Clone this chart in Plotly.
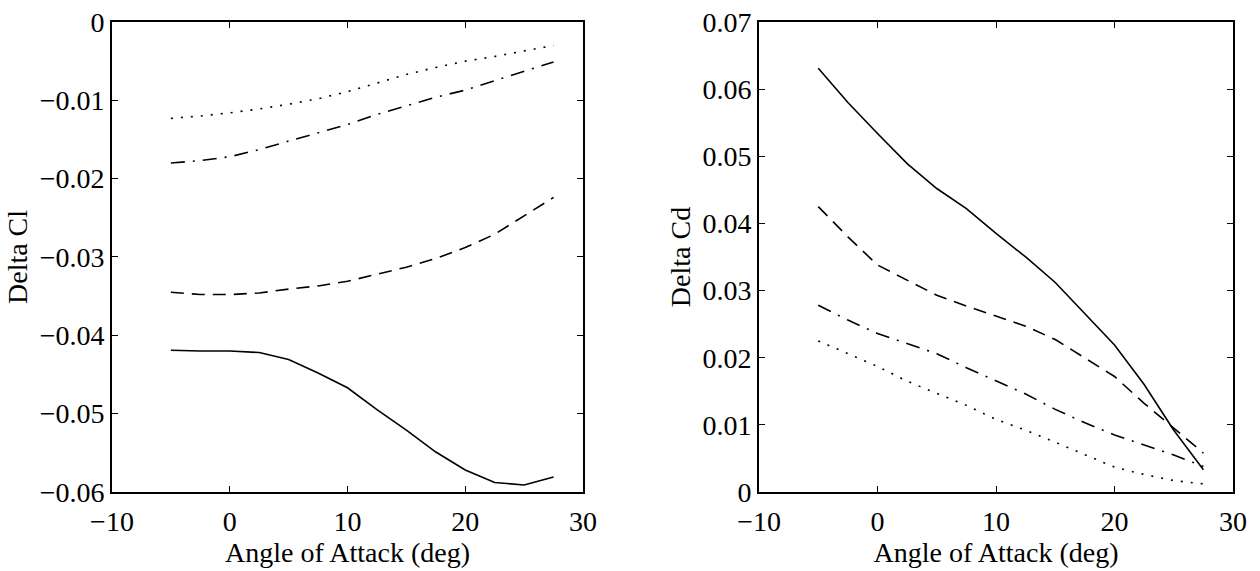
import plotly.graph_objects as go

# Angle of attack (deg)
alpha = [-5, -2.5, 0, 2.5, 5, 7.5, 10, 12.5, 15, 17.5, 20, 22.5, 25, 27.5]

# Delta Cl series (left panel)
cl_solid = [-0.0419, -0.0420, -0.0420, -0.0422, -0.0431, -0.0448, -0.0467, -0.0495,
            -0.0521, -0.0549, -0.0572, -0.0588, -0.0591, -0.0581]
cl_dash = [-0.0345, -0.0348, -0.0348, -0.0346, -0.0341, -0.0337, -0.0331, -0.0322,
           -0.0313, -0.0302, -0.0288, -0.0271, -0.0247, -0.0224]
cl_dashdot = [-0.0180, -0.0177, -0.0172, -0.0163, -0.0152, -0.0141, -0.0131, -0.0118,
              -0.0107, -0.0096, -0.0087, -0.0075, -0.0063, -0.0051]
cl_dot = [-0.0123, -0.0120, -0.0116, -0.0111, -0.0105, -0.0098, -0.0089, -0.0078,
          -0.0067, -0.0058, -0.0050, -0.0044, -0.0037, -0.0030]

# Delta Cd series (right panel)
cd_solid = [0.0631, 0.0580, 0.0534, 0.0489, 0.0452, 0.0422, 0.0385, 0.0350,
            0.0312, 0.0266, 0.0219, 0.0160, 0.0092, 0.0033]
cd_dash = [0.0425, 0.0380, 0.0338, 0.0316, 0.0293, 0.0277, 0.0262, 0.0247,
           0.0227, 0.0200, 0.0172, 0.0132, 0.0095, 0.0058]
cd_dashdot = [0.0278, 0.0256, 0.0236, 0.0221, 0.0206, 0.0185, 0.0166, 0.0146,
              0.0123, 0.0103, 0.0085, 0.0070, 0.0055, 0.0038]
cd_dot = [0.0225, 0.0206, 0.0187, 0.0165, 0.0147, 0.0129, 0.0108, 0.0092,
          0.0074, 0.0055, 0.0037, 0.0026, 0.0017, 0.0012]

x_ticks = [-10, 0, 10, 20, 30]
cl_ticks = [-0.06, -0.05, -0.04, -0.03, -0.02, -0.01, 0]
cd_ticks = [0, 0.01, 0.02, 0.03, 0.04, 0.05, 0.06, 0.07]

styles = {
    "solid": "solid",
    "dash": "13px,8px",
    "dashdot": "14px,8px,2px,8px",
    "dot": "2px,8px",
}

fig = go.Figure()

def add(xs, ys, dash, xa, ya):
    fig.add_trace(go.Scatter(x=xs, y=ys, mode="lines", xaxis=xa, yaxis=ya,
                             line=dict(color="black", width=1.6, dash=dash),
                             showlegend=False, hoverinfo="skip"))

for series, st in [(cl_solid, "solid"), (cl_dash, "dash"), (cl_dashdot, "dashdot"), (cl_dot, "dot")]:
    add(alpha, series, styles[st], "x", "y")
for series, st in [(cd_solid, "solid"), (cd_dash, "dash"), (cd_dashdot, "dashdot"), (cd_dot, "dot")]:
    add(alpha, series, styles[st], "x2", "y2")

font = dict(family="Liberation Serif", size=28, color="black")

axis_common = dict(
    showline=True, linecolor="black", linewidth=1.6, mirror="ticks",
    ticks="inside", ticklen=6, tickwidth=1.4, tickcolor="black",
    showgrid=False, zeroline=False, tickfont=font, automargin=False,
)

fig.update_layout(
    width=1260, height=571,
    margin=dict(l=0, r=0, t=0, b=0),
    paper_bgcolor="white", plot_bgcolor="white",
    font=font,
    xaxis=dict(domain=[0.0889, 0.4627], range=[-10, 30], tickvals=x_ticks,
               ticklabelstandoff=4,
               title=dict(text="Angle of Attack (deg)", font=font, standoff=2),
               anchor="y", **axis_common),
    yaxis=dict(domain=[0.1384, 0.9615], range=[-0.06, 0], tickvals=cl_ticks,
               title=dict(text="Delta Cl", font=font, standoff=4),
               anchor="x", **axis_common),
    xaxis2=dict(domain=[0.6024, 0.9786], range=[-10, 30], tickvals=x_ticks,
                ticklabelstandoff=4,
                title=dict(text="Angle of Attack (deg)", font=font, standoff=2),
                anchor="y2", **axis_common),
    yaxis2=dict(domain=[0.1384, 0.9615], range=[0, 0.07], tickvals=cd_ticks,
                title=dict(text="Delta Cd", font=font, standoff=4),
                anchor="x2", **axis_common),
)

fig.write_html("out.html")
